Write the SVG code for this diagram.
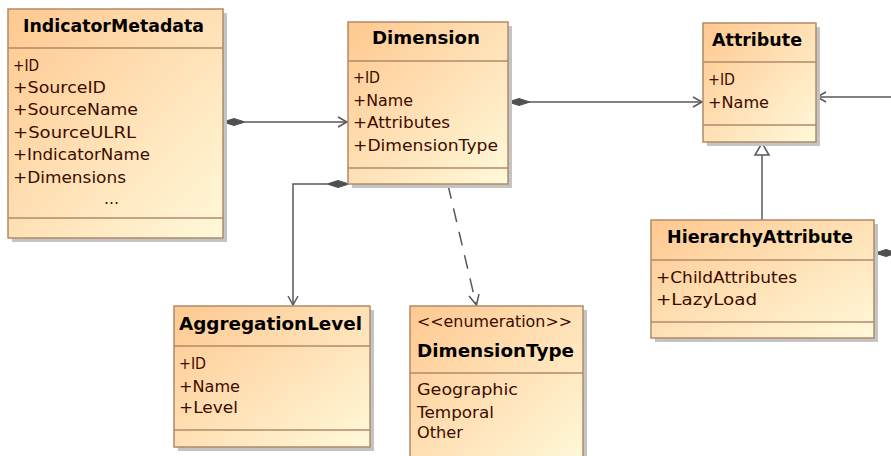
<svg xmlns="http://www.w3.org/2000/svg" width="891" height="456" viewBox="0 0 891 456">
<style>
.box{fill:url(#g);stroke:#B08A68;stroke-width:1.5}
.sh{fill:#C4C4C4}
.div{stroke:#B08A68;stroke-width:1.5}
.t{font-family:"DejaVu Sans",sans-serif;font-size:18px;font-weight:bold;fill:#000}
.a{font-family:"DejaVu Sans",sans-serif;font-size:15px;fill:#3C0C00}
.ln{fill:none;stroke:#585858;stroke-width:1.5}
.dash{fill:none;stroke:#585858;stroke-width:1.5;stroke-dasharray:14 10}
.dia{fill:#505050;stroke:#505050;stroke-width:1}
.arr{fill:none;stroke:#585858;stroke-width:1.5}
.tri{fill:#fff;stroke:#585858;stroke-width:1.5}
</style>
<defs>
<linearGradient id="g" x1="0" y1="0" x2="1" y2="1">
<stop offset="0" stop-color="#FFC890"/>
<stop offset="1" stop-color="#FFF9DA"/>
</linearGradient>
</defs>
<rect width="891" height="456" fill="#fff"/>

<g id="connectors">
<!-- IndicatorMetadata to Dimension -->
<line class="ln" x1="245" y1="122" x2="347" y2="122"/>
<polygon class="dia" points="223,122 234,118.5 245,122 234,125.5"/>
<polyline class="arr" points="338,117 347,122 338,127"/>
<!-- Dimension to Attribute -->
<line class="ln" x1="530" y1="102" x2="702" y2="102"/>
<polygon class="dia" points="508,102 519,98.5 530,102 519,105.5"/>
<polyline class="arr" points="693,97 702,102 693,107"/>
<!-- from right to Attribute -->
<line class="ln" x1="891" y1="97" x2="817" y2="97"/>
<polyline class="arr" points="826,92 817,97 826,102"/>
<!-- HierarchyAttribute right composition -->
<line class="ln" x1="884" y1="253" x2="891" y2="253"/>
<polygon class="dia" points="875,253 886,249.5 897,253 886,256.5"/>
<!-- generalization -->
<line class="ln" x1="762" y1="155" x2="762" y2="220"/>
<polygon class="tri" points="762,143 769,155 755,155"/>
<!-- Dimension to AggregationLevel -->
<polyline class="ln" points="327,184 293,184 293,305"/>
<polygon class="dia" points="349,184 338,180.5 327,184 338,187.5"/>
<polyline class="arr" points="288,296 293,305 298,296"/>
<!-- dependency -->
<line class="dash" x1="448" y1="185" x2="476" y2="304"/>
<polyline class="arr" points="469,296 476.5,305 479,294"/>
</g>

<g id="IndicatorMetadata">
<rect class="sh" x="12" y="13" width="215" height="229"/>
<rect class="box" x="8" y="9" width="215" height="229"/>
<line class="div" x1="8" y1="48" x2="223" y2="48"/>
<line class="div" x1="8" y1="218" x2="223" y2="218"/>
<text class="t" x="23" y="32" textLength="181" lengthAdjust="spacingAndGlyphs">IndicatorMetadata</text>
<text class="a" x="13" y="71" textLength="26" lengthAdjust="spacingAndGlyphs">+ID</text>
<text class="a" x="13" y="93" textLength="93" lengthAdjust="spacingAndGlyphs">+SourceID</text>
<text class="a" x="13" y="115" textLength="125" lengthAdjust="spacingAndGlyphs">+SourceName</text>
<text class="a" x="13" y="138" textLength="123" lengthAdjust="spacingAndGlyphs">+SourceULRL</text>
<text class="a" x="13" y="160" textLength="137" lengthAdjust="spacingAndGlyphs">+IndicatorName</text>
<text class="a" x="13" y="183" textLength="113" lengthAdjust="spacingAndGlyphs">+Dimensions</text>
<text class="a" x="104" y="204" textLength="15" lengthAdjust="spacingAndGlyphs">...</text>
</g>

<g id="Dimension">
<rect class="sh" x="352" y="26" width="160" height="162"/>
<rect class="box" x="348" y="22" width="160" height="162"/>
<line class="div" x1="348" y1="61" x2="508" y2="61"/>
<line class="div" x1="348" y1="168" x2="508" y2="168"/>
<text class="t" x="372" y="44" textLength="108" lengthAdjust="spacingAndGlyphs">Dimension</text>
<text class="a" x="353" y="83" textLength="27" lengthAdjust="spacingAndGlyphs">+ID</text>
<text class="a" x="353" y="106" textLength="60" lengthAdjust="spacingAndGlyphs">+Name</text>
<text class="a" x="353" y="128" textLength="97" lengthAdjust="spacingAndGlyphs">+Attributes</text>
<text class="a" x="353" y="151" textLength="145" lengthAdjust="spacingAndGlyphs">+DimensionType</text>
</g>

<g id="Attribute">
<rect class="sh" x="707" y="27" width="113" height="119"/>
<rect class="box" x="703" y="23" width="113" height="119"/>
<line class="div" x1="703" y1="62" x2="816" y2="62"/>
<line class="div" x1="703" y1="125" x2="816" y2="125"/>
<text class="t" x="712" y="46" textLength="90" lengthAdjust="spacingAndGlyphs">Attribute</text>
<text class="a" x="708" y="85" textLength="27" lengthAdjust="spacingAndGlyphs">+ID</text>
<text class="a" x="708" y="108" textLength="61" lengthAdjust="spacingAndGlyphs">+Name</text>
</g>

<g id="HierarchyAttribute">
<rect class="sh" x="655" y="224" width="223" height="118"/>
<rect class="box" x="651" y="220" width="223" height="118"/>
<line class="div" x1="651" y1="260" x2="874" y2="260"/>
<line class="div" x1="651" y1="322" x2="874" y2="322"/>
<text class="t" x="667" y="243" textLength="186" lengthAdjust="spacingAndGlyphs">HierarchyAttribute</text>
<text class="a" x="656" y="283" textLength="141" lengthAdjust="spacingAndGlyphs">+ChildAttributes</text>
<text class="a" x="656" y="305" textLength="101" lengthAdjust="spacingAndGlyphs">+LazyLoad</text>
</g>

<g id="AggregationLevel">
<rect class="sh" x="178" y="310" width="196" height="141"/>
<rect class="box" x="174" y="306" width="196" height="141"/>
<line class="div" x1="174" y1="346" x2="370" y2="346"/>
<line class="div" x1="174" y1="430" x2="370" y2="430"/>
<text class="t" x="179" y="330" textLength="183" lengthAdjust="spacingAndGlyphs">AggregationLevel</text>
<text class="a" x="179" y="369" textLength="27" lengthAdjust="spacingAndGlyphs">+ID</text>
<text class="a" x="179" y="392" textLength="61" lengthAdjust="spacingAndGlyphs">+Name</text>
<text class="a" x="179" y="413" textLength="59" lengthAdjust="spacingAndGlyphs">+Level</text>
</g>

<g id="DimensionType">
<rect class="sh" x="414" y="310" width="173" height="160"/>
<rect class="box" x="410" y="306" width="173" height="160"/>
<line class="div" x1="410" y1="373" x2="583" y2="373"/>
<text class="a" x="417" y="327" textLength="155" lengthAdjust="spacingAndGlyphs">&lt;&lt;enumeration&gt;&gt;</text>
<text class="t" x="417" y="357" textLength="157" lengthAdjust="spacingAndGlyphs">DimensionType</text>
<text class="a" x="417" y="395" textLength="101" lengthAdjust="spacingAndGlyphs">Geographic</text>
<text class="a" x="417" y="418" textLength="77" lengthAdjust="spacingAndGlyphs">Temporal</text>
<text class="a" x="417" y="438" textLength="46" lengthAdjust="spacingAndGlyphs">Other</text>
</g>
</svg>
